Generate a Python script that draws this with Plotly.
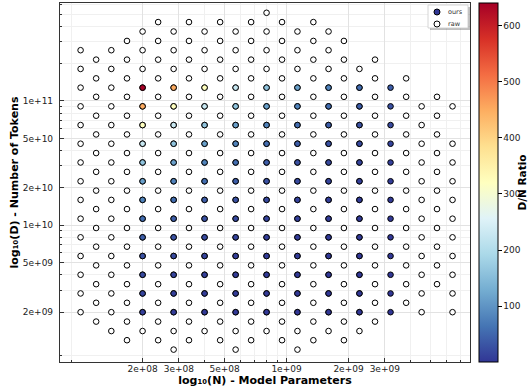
import plotly.graph_objects as go

# Parameter grid (model size N) and token grid (D), quarter-octave spacing
N_LEVELS = [1.00e8, 1.19e8, 1.41e8, 1.68e8, 2.00e8, 2.38e8, 2.83e8, 3.36e8,
            4.00e8, 4.76e8, 5.66e8, 6.73e8, 8.00e8, 9.51e8, 1.13e9, 1.35e9,
            1.60e9, 1.90e9, 2.26e9, 2.69e9, 3.20e9, 3.81e9, 4.53e9, 5.38e9,
            6.40e9]
D_LEVELS = [1.00e9, 1.19e9, 1.41e9, 1.68e9, 2.00e9, 2.38e9, 2.83e9, 3.36e9,
            4.00e9, 4.76e9, 5.66e9, 6.73e9, 8.00e9, 9.51e9, 1.13e10, 1.35e10,
            1.60e10, 1.90e10, 2.26e10, 2.69e10, 3.20e10, 3.81e10, 4.53e10,
            5.38e10, 6.40e10, 7.61e10, 9.05e10, 1.08e11, 1.28e11, 1.52e11,
            1.81e11, 2.15e11, 2.56e11, 3.04e11, 3.62e11, 4.31e11, 5.12e11]

# Raw runs: for each N column, the first/last index into D_LEVELS (every other level)
RAW_SPANS = [(4, 32), (3, 31), (2, 32), (1, 33), (2, 34), (1, 35), (0, 34),
             (1, 35), (2, 34), (1, 35), (0, 34), (1, 35), (2, 36), (1, 35),
             (0, 34), (1, 35), (2, 34), (1, 33), (2, 30), (3, 31), None,
             (5, 29), (4, 26), (7, 27), (4, 26)]
# (column, D index) pairs with no raw run
RAW_MISSING = [(24, 24)]

# Our selected runs
N_OURS = [2.00e8, 2.83e8, 4.00e8, 5.66e8, 8.00e8, 1.13e9, 1.60e9, 2.26e9, 3.20e9]
D_OURS = [2.00e9, 2.83e9, 4.00e9, 5.66e9, 8.00e9, 1.13e10, 1.60e10, 2.26e10,
          3.20e10, 4.53e10, 6.40e10, 9.05e10, 1.28e11]

X_TICKS = [2e8, 3e8, 5e8, 1e9, 2e9, 3e9]
X_TICK_TEXT = ["2e+08", "3e+08", "5e+08", "1e+09", "2e+09", "3e+09"]
Y_TICKS = [2e9, 5e9, 1e10, 2e10, 5e10, 1e11]
Y_TICK_TEXT = ["2e+09", "5e+09", "1e+10", "2e+10", "5e+10", "1e+11"]
CBAR_TICKS = [100, 200, 300, 400, 500, 600]
LEGEND_LABELS = ["ours", "raw"]

raw_n, raw_d = [], []
for col, span in enumerate(RAW_SPANS):
    if span is None:
        continue
    lo, hi = span
    for k in range(lo, hi + 1, 2):
        if (col, k) in RAW_MISSING:
            continue
        raw_n.append(N_LEVELS[col])
        raw_d.append(D_LEVELS[k])

ours = [(n, d, d / n) for n in N_OURS for d in D_OURS]
ours.sort(key=lambda t: t[2])
ours_n = [t[0] for t in ours]
ours_d = [t[1] for t in ours]
ours_ratio = [t[2] for t in ours]


def minor_vals(lo_exp, hi_exp):
    return [m * 10 ** e for e in range(lo_exp, hi_exp + 1) for m in range(2, 10)]


FONT = "DejaVu Sans"
CMAP = "RdYlBu_r"
MARKER_SIZE = 5.6

fig = go.Figure()
fig.add_trace(go.Scatter(
    x=raw_n, y=raw_d, mode="markers", name="raw", showlegend=False,
    marker=dict(size=MARKER_SIZE, color="white", line=dict(color="black", width=1)),
))
fig.add_trace(go.Scatter(
    x=ours_n, y=ours_d, mode="markers", name="ours", showlegend=False,
    marker=dict(
        size=MARKER_SIZE, color=ours_ratio, colorscale=CMAP,
        cmin=min(ours_ratio), cmax=max(ours_ratio),
        line=dict(color="black", width=1),
        colorbar=dict(
            x=1.022, xanchor="left", xpad=0, ypad=0,
            y=0.5, yanchor="middle", len=1, lenmode="fraction",
            thickness=19, thicknessmode="pixels",
            outlinecolor="black", outlinewidth=1,
            tickvals=CBAR_TICKS, ticks="outside", ticklen=3.5,
            tickcolor="black", tickfont=dict(family=FONT, size=9, color="#222"),
        ),
    ),
))

axis_common = dict(
    type="log", showline=True, mirror=True, linecolor="#333", linewidth=1.2,
    ticks="inside", ticklen=3.5, tickwidth=0.8, tickcolor="#333",
    showgrid=True, gridcolor="#e2e2e2", gridwidth=0.8, zeroline=False,
    tickfont=dict(family=FONT, size=9, color="#222"),
)

fig.update_xaxes(
    **axis_common, range=[7.90, 9.891],
    tickvals=X_TICKS, ticktext=X_TICK_TEXT, ticklabelstandoff=-2,
    minor=dict(tickvals=minor_vals(7, 9), ticks="inside", ticklen=2,
               tickcolor="#333", tickwidth=0.6, showgrid=True,
               gridcolor="#f0f0f0", gridwidth=0.8),
    title=dict(text="<b>log₁₀(N) - Model Parameters</b>", standoff=2,
               font=dict(family=FONT, size=11, color="black")),
)
fig.update_yaxes(
    **axis_common, range=[8.9003, 11.788],
    tickvals=Y_TICKS, ticktext=Y_TICK_TEXT, ticklabelstandoff=4,
    minor=dict(tickvals=minor_vals(8, 11), ticks="inside", ticklen=2,
               tickcolor="#333", tickwidth=0.6, showgrid=True,
               gridcolor="#f0f0f0", gridwidth=0.8),
    title=dict(text="<b>log₁₀(D) - Number of Tokens</b>", standoff=1,
               font=dict(family=FONT, size=11, color="black")),
)

# Compact legend box in the upper-right corner of the axes
shapes = [
    dict(type="rect", xref="paper", yref="paper", x0=0.9024, x1=1.0,
         y0=0.9248, y1=0.9889, fillcolor="rgba(0,0,0,0.25)", line_width=0,
         layer="above"),
    dict(type="rect", xref="paper", yref="paper", x0=0.8976, x1=0.9951,
         y0=0.9304, y1=0.9944, fillcolor="white",
         line=dict(color="#cccccc", width=0.8), layer="above"),
]
legend_colors = ["rgb(49,54,149)", "white"]
legend_rows = [0.9749, 0.9415]
for color, yrow in zip(legend_colors, legend_rows):
    shapes.append(dict(
        type="circle", xref="paper", yref="paper", xsizemode="pixel",
        ysizemode="pixel", xanchor=0.9195, yanchor=yrow,
        x0=-3, x1=3, y0=-3, y1=3, fillcolor=color,
        line=dict(color="black", width=1), layer="above"))

annotations = [
    dict(text=label, xref="paper", yref="paper", x=0.9415, y=yrow,
         xanchor="left", yanchor="middle", showarrow=False,
         font=dict(family=FONT, size=6.5, color="#333"))
    for label, yrow in zip(LEGEND_LABELS, legend_rows)
]
# Colorbar title
annotations.append(dict(
    text="<b>D/N Ratio</b>", xref="paper", yref="paper", x=1.1244, y=0.5,
    xanchor="center", yanchor="middle", textangle=-90, showarrow=False,
    font=dict(family=FONT, size=10.5, color="black")))

fig.update_layout(
    width=529, height=389,
    margin=dict(l=60, r=59, t=3, b=27, autoexpand=False),
    paper_bgcolor="white", plot_bgcolor="white",
    font=dict(family=FONT, size=9, color="#222"),
    shapes=shapes, annotations=annotations,
)

fig.write_html("out.html")
